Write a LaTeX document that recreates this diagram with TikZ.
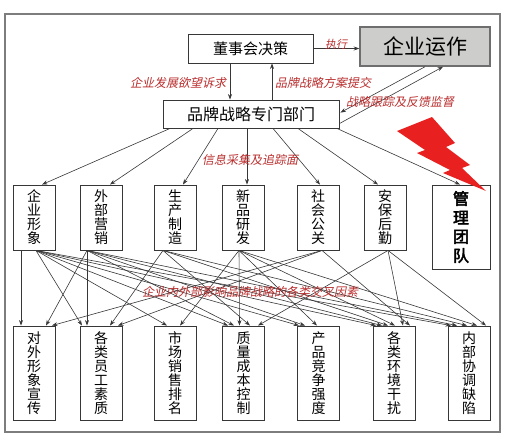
\documentclass[tikz,border=0pt]{standalone}
\usepackage{fontspec}
\setmainfont{Noto Sans CJK SC}
\newfontfamily\cjkit[FakeSlant=0.2]{Noto Sans CJK SC}
\newfontfamily\cjkb[FakeBold=3]{Noto Sans CJK SC}
\usetikzlibrary{arrows.meta,calc}
\definecolor{lab}{RGB}{185,45,45}
\definecolor{ln}{RGB}{55,55,55}
\definecolor{opsfill}{RGB}{205,205,203}
\definecolor{opsline}{RGB}{110,110,110}
\definecolor{bolt}{RGB}{232,32,32}
\definecolor{frame}{RGB}{125,125,125}
\begin{document}
\begin{tikzpicture}[x=1pt,y=-1pt,
 box/.style={draw=ln,line width=0.9pt,fill=white,inner sep=0pt},
 vbox/.style={box,minimum width=42pt,align=center,font=\fontsize{14}{14}\selectfont},
 arr/.style={draw=ln,line width=0.6pt,-{Stealth[length=5.5pt,width=4pt]}},
 lbl/.style={text=lab,font=\cjkit\fontsize{12}{12}\selectfont,inner sep=0pt},
]
\useasboundingbox (0,0) rectangle (510,440);
\draw[frame,line width=1.2pt] (5,14) rectangle (500,432);

% top
\node[box,minimum width=125pt,minimum height=29pt,font=\fontsize{15}{15}\selectfont] (top) at (250.5,48.5) {董事会决策};
\node[box,fill=opsfill,draw=opsline,line width=1.5pt,minimum width=130pt,minimum height=39pt,font=\fontsize{21}{21}\selectfont] (ops) at (425,46.5) {企业运作};
\node[box,minimum width=176pt,minimum height=28pt,font=\fontsize{16}{16}\selectfont] (dept) at (251,114) {品牌战略专门部门};

% middle row
\node[vbox,minimum height=65pt] (m1) at (34,217.5) {企\\业\\形\\象};
\node[vbox,minimum height=65pt] (m2) at (101,217.5) {外\\部\\营\\销};
\node[vbox,minimum height=65pt] (m3) at (175,217.5) {生\\产\\制\\造};
\node[vbox,minimum height=65pt] (m4) at (243,217.5) {新\\品\\研\\发};
\node[vbox,minimum height=65pt] (m5) at (318,217.5) {社\\会\\公\\关};
\node[vbox,minimum height=65pt] (m6) at (385,217.5) {安\\保\\后\\勤};
\node[box,minimum width=58pt,minimum height=84pt,align=center,font=\cjkb\fontsize{16}{19}\selectfont] (m7) at (461,227) {管\\理\\团\\队};

% bottom row
\node[vbox,minimum height=94pt] (b1) at (34,373) {对\\外\\形\\象\\宣\\传};
\node[vbox,minimum height=94pt] (b2) at (101,373) {各\\类\\员\\工\\素\\质};
\node[vbox,minimum height=94pt] (b3) at (175,373) {市\\场\\销\\售\\排\\名};
\node[vbox,minimum height=94pt] (b4) at (243.5,373) {质\\量\\成\\本\\控\\制};
\node[vbox,minimum height=94pt] (b5) at (318.5,373) {产\\品\\竞\\争\\强\\度};
\node[vbox,minimum height=94pt] (b6) at (394,373) {各\\类\\环\\境\\干\\扰};
\node[vbox,minimum height=94pt] (b7) at (469,373) {内\\部\\协\\调\\缺\\陷};

% top connectors
\draw[arr] ([xshift=-20.5pt]top.south) -- ([xshift=-21pt]dept.north);
\draw[arr] ([xshift=21pt]dept.north) -- ([xshift=21.5pt]top.south);
\draw[arr] (top.east) -- (top.east -| ops.west);
\draw[arr] (ops.south) -- ($(dept.north east)+(1,13)$);
\draw[arr] ($(dept.north east)+(0,24)$) -- ($(ops.south)+(18,0)$);

% dept to middle
\foreach \so/\t/\to in {-81/m1/8, -58/m2/9, -33/m3/8, -4/m4/4, 22/m5/2, 47/m6/-7, 86/m7/-1}
  \draw[arr] ([xshift=\so pt]dept.south) -- ([xshift=\to pt]\t.north);

% mesh middle to bottom
\foreach \s/\so/\t/\to in {
  m1/-13/b1/-13,
  m1/2/b2/-19, m1/2/b3/-8, m1/2/b4/-15.5, m1/2/b5/-19.5, m1/2/b6/-18, m1/2/b7/-18,
  m2/-14/b1/12, m2/-14/b2/-14, m2/-14/b4/-9.5, m2/-14/b5/-13.5, m2/-14/b6/-12, m2/-14/b7/-12,
  m3/-12/b2/9, m3/-12/b4/6.5, m3/-12/b6/-6, m3/-12/b7/-2,
  m4/-4/b3/5, m4/-4/b4/-4, m4/-4/b5/-1.5, m4/-4/b6/1, m4/-4/b7/8,
  m5/4/b1/18, m5/4/b2/17, m5/4/b6/16,
  m6/3/b4/14.5, m6/3/b6/9, m6/3/b7/17}
  \draw[arr] ([xshift=\so pt]\s.south) -- ([xshift=\to pt]\t.north);

% lightning bolt
\fill[bolt] (397,131) -- (432,117) -- (455,143) -- (446,147) -- (470,165) -- (462,168) -- (486,191) -- (443,173) -- (450,170) -- (417,153) -- (425,150) -- cycle;

% labels
\node[lbl] (l1) at (178,83) {企业发展欲望诉求};
\node[lbl] (l2) at (323,83) {品牌战略方案提交};
\node[lbl,font=\cjkit\fontsize{11}{11}\selectfont] (l3) at (336,44) {执行};
\node[lbl] (l4) at (400,102) {战略跟踪及反馈监督};
\node[lbl] (l5) at (250,160) {信息采集及追踪面};
\node[lbl] (l6) at (250,292) {企业内外部影响品牌战略的各类交叉因素};
\end{tikzpicture}
\end{document}
